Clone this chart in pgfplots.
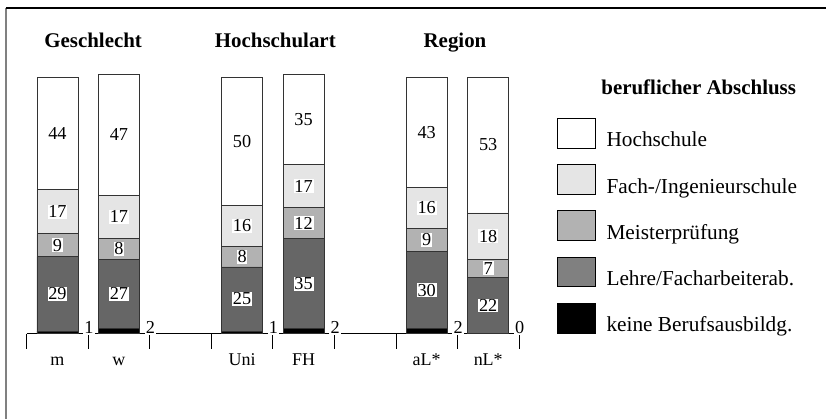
\documentclass[border=0pt]{standalone}
\usepackage{pgfplots}
\usepackage{pgfplotstable}
\pgfplotsset{compat=1.18}
\usepackage{fontspec}
\setmainfont{Liberation Serif}

\newcommand\numfont{\fontsize{13.7pt}{16pt}\selectfont}
\newcommand\tickfont{\fontsize{13.5pt}{16pt}\selectfont}
\newcommand\legfont{\fontsize{16pt}{19pt}\selectfont}
\newcommand\titfont{\fontsize{15.7pt}{19pt}\selectfont\bfseries}

\definecolor{fachgray}{gray}{0.90}
\definecolor{meistergray}{gray}{0.70}
\definecolor{lehregray}{gray}{0.40}
\definecolor{lehreleg}{gray}{0.50}

% share of each vocational degree, in percent
\pgfplotstableread{
x keine lehre meister fach hoch
0 1 29 9 17 44
1 2 27 8 17 47
3 1 25 8 16 50
4 2 35 12 17 35
6 2 30 9 16 43
7 0 22 7 18 53
}\data

\pgfplotsset{
  frame/.style={
    anchor=origin, at={(0,0)},
    x=46.2pt, y=1.9275pt,
    xmin=-0.5, xmax=7.5, ymin=0, ymax=100,
    enlargelimits=false, clip=false},
  legbox/.style={legend image code/.code={
      \draw[black, line width=0.6pt, fill=#1] (0pt,-6pt) rectangle (28.5pt,16.5pt);}},
  seglab/.style={only marks, mark=none, point meta=explicit,
    nodes near coords={\pgfmathprintnumber[assume math mode=true]{\pgfplotspointmeta}},
    every node near coord/.append style={anchor=center, fill=white,
      inner sep=0.6pt, font=\numfont}},
}

\begin{document}
\begin{tikzpicture}
\begin{axis}[
    frame,
    ybar stacked,
    bar width=30.75pt,
    axis x line=bottom, axis y line=none,
    x axis line style={-, line width=0.6pt},
    xtick={0,1,3,4,6,7},
    xticklabels={m,w,Uni,FH,aL*,nL*},
    major tick length=0pt,
    minor xtick={-0.5,0.5,...,7.5},
    minor tick length=11.25pt,
    tick align=outside,
    tick style={black, line width=0.6pt},
    xticklabel style={font=\tickfont, anchor=base, yshift=-24pt},
    ytick=\empty,
    reverse legend,
    legend style={at={(axis cs:8.109,84.05)}, anchor=north west,
      draw=none, fill=none, inner sep=0pt, row sep=11.5pt, column sep=8.25pt,
      nodes={inner sep=0pt, font=\legfont}},
    legend cell align=left,
  ]
  \addplot[draw=black!80, line width=0.6pt, fill=black, legbox=black]
    table[x=x, y=keine] {\data};
  \addplot[draw=black!80, line width=0.6pt, fill=lehregray, legbox=lehreleg]
    table[x=x, y=lehre] {\data};
  \addplot[draw=black!80, line width=0.6pt, fill=meistergray, legbox=meistergray]
    table[x=x, y=meister] {\data};
  \addplot[draw=black!80, line width=0.6pt, fill=fachgray, legbox=fachgray]
    table[x=x, y=fach] {\data};
  \addplot[draw=black!80, line width=0.6pt, fill=white, legbox=white]
    table[x=x, y=hoch] {\data};
  \legend{keine Berufsausbildg., Lehre/Facharbeiterab., Meisterprüfung,
    Fach-/Ingenieurschule, Hochschule}

  \node[anchor=base, font=\titfont] at (axis cs:0.58,111.3) {Geschlecht};
  \node[anchor=base, font=\titfont] at (axis cs:3.54,111.3) {Hochschulart};
  \node[anchor=base, font=\titfont] at (axis cs:6.46,111.3) {Region};
  \node[anchor=base, font=\titfont] at (axis cs:10.42,93.0) {beruflicher Abschluss};
\end{axis}
% value labels, centred in each segment
\begin{axis}[frame, axis lines=none]
  \addplot[only marks, mark=none, point meta=explicit,
    nodes near coords={\pgfmathprintnumber[assume math mode=true]{\pgfplotspointmeta}},
    every node near coord/.append style={anchor=base west, fill=white,
      inner sep=1pt, font=\numfont, xshift=19pt}]
    table[x=x, y expr=0, meta=keine] {\data};
  \addplot[seglab] table[x=x, y expr=\thisrow{keine}+\thisrow{lehre}/2, meta=lehre] {\data};
  \addplot[seglab] table[x=x, y expr=\thisrow{keine}+\thisrow{lehre}+\thisrow{meister}/2, meta=meister] {\data};
  \addplot[seglab] table[x=x, y expr=\thisrow{keine}+\thisrow{lehre}+\thisrow{meister}+\thisrow{fach}/2, meta=fach] {\data};
  \addplot[seglab] table[x=x, y expr=\thisrow{keine}+\thisrow{lehre}+\thisrow{meister}+\thisrow{fach}+\thisrow{hoch}/2, meta=hoch] {\data};
\end{axis}
\pgfresetboundingbox
\path (-43.125pt,-63.75pt) rectangle (577.125pt,250.5pt);
\draw[black!50, line width=1.5pt] (-38.625pt,244.5pt) -- (-38.625pt,-63.75pt);
\draw[black, line width=1.2pt] (-38.625pt,244.5pt) -- (577.125pt,244.5pt);
\end{tikzpicture}
\end{document}
